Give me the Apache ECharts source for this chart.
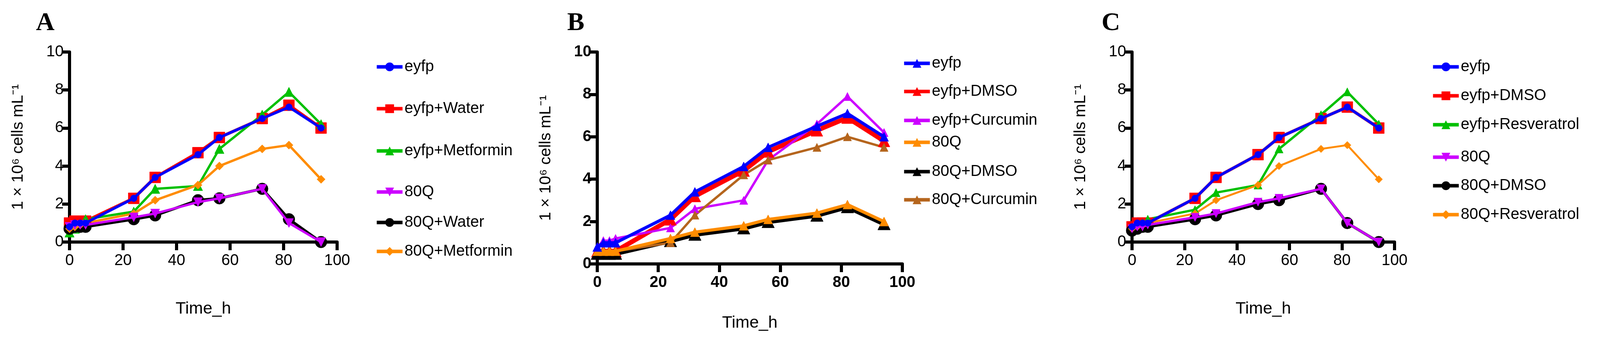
<!DOCTYPE html>
<html>
<head>
<meta charset="utf-8">
<script src="https://cdn.jsdelivr.net/npm/echarts@6/dist/echarts.min.js"></script>
<style>
html, body { margin: 0; padding: 0; background: #fff; overflow: hidden; }
.panel { position: absolute; top: 0; height: 100%; }
</style>
</head>
<body>
<div id="chartA" class="panel" style="left:0;width:33.3%"></div>
<div id="chartB" class="panel" style="left:33.3%;width:33.3%"></div>
<div id="chartC" class="panel" style="left:66.6%;width:33.4%"></div>
<script>
var hours = [0, 2, 4, 6, 24, 32, 48, 56, 72, 82, 94];
var xTicks = [0, 20, 40, 60, 80, 100];
var yTicks = [0, 2, 4, 6, 8, 10];

// panel A
var aEyfp = [0.8, 1.0, 1.0, 1.0, 2.3, 3.4, 4.6, 5.5, 6.5, 7.1, 6.0];
var aEyfpWater = [1.0, 1.1, 1.1, 1.1, 2.3, 3.4, 4.7, 5.5, 6.5, 7.2, 6.0];
var aEyfpMet = [0.5, 0.7, 0.9, 1.2, 1.6, 2.8, 2.95, 4.9, 6.7, 7.9, 6.2];
var a80Q = [0.8, 0.9, 0.9, 0.9, 1.3, 1.5, 2.1, 2.3, 2.8, 1.0, 0.0];
var a80QWater = [0.7, 0.8, 0.8, 0.8, 1.2, 1.4, 2.2, 2.3, 2.8, 1.2, 0.0];
var a80QMet = [0.7, 0.8, 0.9, 1.0, 1.5, 2.2, 3.0, 4.0, 4.9, 5.1, 3.3];

// panel B
var bEyfp = [0.8, 1.0, 1.0, 1.0, 2.3, 3.4, 4.6, 5.5, 6.5, 7.1, 6.0];
var bEyfpDmso = [0.6, 0.6, 0.6, 0.6, 2.1, 3.2, 4.4, 5.3, 6.3, 6.9, 5.8];
var bEyfpCur = [0.8, 1.1, 1.1, 1.2, 1.7, 2.6, 3.0, 4.9, 6.6, 7.9, 6.2];
var b80Q = [0.6, 0.6, 0.6, 0.6, 1.2, 1.5, 1.8, 2.1, 2.4, 2.8, 2.0];
var b80QDmso = [0.5, 0.5, 0.5, 0.5, 1.1, 1.4, 1.7, 2.0, 2.3, 2.7, 1.9];
var b80QCur = [0.6, 0.6, 0.6, 0.6, 1.0, 2.3, 4.2, 4.9, 5.5, 6.0, 5.5];

// panel C
var cEyfp = [0.8, 1.0, 1.0, 1.0, 2.3, 3.4, 4.6, 5.5, 6.5, 7.1, 6.0];
var cEyfpDmso = [0.8, 1.0, 1.0, 1.0, 2.3, 3.4, 4.6, 5.5, 6.5, 7.1, 6.0];
var cEyfpRes = [0.7, 0.9, 1.0, 1.2, 1.7, 2.6, 3.0, 4.9, 6.7, 7.9, 6.2];
var c80Q = [0.7, 0.8, 0.8, 0.9, 1.3, 1.5, 2.1, 2.3, 2.8, 1.0, 0.0];
var c80QDmso = [0.6, 0.7, 0.8, 0.8, 1.2, 1.4, 2.0, 2.2, 2.8, 1.0, 0.0];
var c80QRes = [0.7, 0.8, 0.9, 1.0, 1.5, 2.2, 3.0, 4.0, 4.9, 5.1, 3.3];

// the layout was measured on a 4355x867 picture; scale to the real viewport
var sx = window.innerWidth / 4355;
var sy = window.innerHeight / 867;
var s = Math.min(sx, sy);
function px(v) { return Math.round(v * sx); }
function py(v) { return Math.round(v * sy); }
function pf(v) { return Math.round(v * s); }

function pts(vals) {
    var out = [];
    for (var i = 0; i < hours.length; i++) out.push([hours[i], vals[i]]);
    return out;
}

function line(name, vals, color, symbol, size, width, rotate) {
    return {
        name: name, type: 'line', data: pts(vals),
        symbol: symbol, symbolSize: pf(size), symbolRotate: rotate || 0,
        lineStyle: { color: color, width: pf(width) },
        itemStyle: { color: color, borderColor: color },
        z: 2
    };
}

function makeOption(cfg) {
    var legends = [];
    for (var i = 0; i < cfg.series.length; i++) {
        legends.push({
            data: [cfg.series[i].name],
            left: px(cfg.legendLeft), top: py(cfg.legendTops[i]),
            itemWidth: pf(70), itemHeight: pf(30), itemGap: 0,
            lineStyle: { width: pf(10) },
            textStyle: { fontSize: pf(42), color: '#000', fontFamily: 'Liberation Sans' },
            selectedMode: false
        });
    }
    var labelStyle = { fontSize: pf(42), color: '#000', fontFamily: 'Liberation Sans', fontWeight: cfg.bold ? 'bold' : 'normal' };
    return {
        animation: false,
        backgroundColor: '#fff',
        title: {
            text: cfg.letter, left: px(cfg.letterLeft), top: py(22),
            textStyle: { fontSize: pf(70), fontFamily: 'Liberation Serif', fontWeight: 'bold', color: '#000' }
        },
        legend: legends,
        grid: { left: px(cfg.left), top: py(133), width: px(cfg.width), height: py(cfg.height) },
        xAxis: {
            type: 'value', min: 0, max: 100, interval: 20,
            name: 'Time_h', nameLocation: 'middle', nameGap: py(cfg.xNameGap),
            nameTextStyle: { fontSize: pf(46), color: '#000', fontFamily: 'Liberation Sans' },
            axisLine: { lineStyle: { color: '#000', width: pf(9) } },
            axisTick: { length: pf(22), lineStyle: { color: '#000', width: pf(9) } },
            axisLabel: Object.assign({ margin: pf(30) }, labelStyle),
            splitLine: { show: false }
        },
        yAxis: {
            type: 'value', min: 0, max: 10, interval: 2,
            name: '1 × 10\u2076 cells mL\u207B\u00B9', nameLocation: 'middle', nameGap: px(118),
            nameTextStyle: { fontSize: pf(44), color: '#000', fontFamily: 'Liberation Sans' },
            axisLine: { show: true, lineStyle: { color: '#000', width: pf(9) } },
            axisTick: { show: true, length: pf(20), lineStyle: { color: '#000', width: pf(9) } },
            axisLabel: Object.assign({ margin: pf(16) }, labelStyle),
            splitLine: { show: false }
        },
        series: cfg.series
    };
}

// panel offsets inside each div (div B starts at 1450, C at 2900 in the 4355 picture)
var optA = makeOption({
    letter: 'A', letterLeft: 92, left: 189, width: 728, height: 486, xNameGap: 150,
    legendLeft: 1015, legendTops: [146, 253, 361, 466, 544, 618],
    series: [
        line('eyfp', aEyfp, '#0000ff', 'circle', 18, 7),
        line('eyfp+Water', aEyfpWater, '#ff0000', 'rect', 30, 8),
        line('eyfp+Metformin', aEyfpMet, '#00c000', 'triangle', 26, 6),
        line('80Q', a80Q, '#cc00ff', 'triangle', 24, 6, 180),
        line('80Q+Water', a80QWater, '#000000', 'circle', 32, 7),
        line('80Q+Metformin', a80QMet, '#ff8c00', 'diamond', 22, 6)
    ]
});
optA.series[0].z = 5; optA.series[3].z = 4;

var optB = makeOption({
    letter: 'B', letterLeft: 88, left: 175, width: 830, height: 542, xNameGap: 130, bold: true,
    legendLeft: 1000, legendTops: [137, 209, 283, 339, 414, 486],
    series: [
        line('eyfp', bEyfp, '#0000ff', 'triangle', 24, 9),
        line('eyfp+DMSO', bEyfpDmso, '#ff0000', 'triangle', 32, 13),
        line('eyfp+Curcumin', bEyfpCur, '#cc00ff', 'triangle', 22, 6),
        line('80Q', b80Q, '#ff8c00', 'triangle', 24, 8),
        line('80Q+DMSO', b80QDmso, '#000000', 'triangle', 34, 14),
        line('80Q+Curcumin', b80QCur, '#b5651d', 'triangle', 22, 6)
    ]
});
optB.series[0].z = 5; optB.series[3].z = 4;

var optC = makeOption({
    letter: 'C', letterLeft: 93, left: 181, width: 714, height: 486, xNameGap: 150,
    legendLeft: 990, legendTops: [146, 220, 294, 377, 450, 524],
    series: [
        line('eyfp', cEyfp, '#0000ff', 'circle', 18, 7),
        line('eyfp+DMSO', cEyfpDmso, '#ff0000', 'rect', 30, 8),
        line('eyfp+Resveratrol', cEyfpRes, '#00c000', 'triangle', 22, 6),
        line('80Q', c80Q, '#cc00ff', 'triangle', 22, 6, 180),
        line('80Q+DMSO', c80QDmso, '#000000', 'circle', 32, 7),
        line('80Q+Resveratrol', c80QRes, '#ff8c00', 'diamond', 20, 5)
    ]
});
optC.series[0].z = 5; optC.series[3].z = 4;

echarts.init(document.getElementById('chartA')).setOption(optA);
echarts.init(document.getElementById('chartB')).setOption(optB);
echarts.init(document.getElementById('chartC')).setOption(optC);
</script>
</body>
</html>
